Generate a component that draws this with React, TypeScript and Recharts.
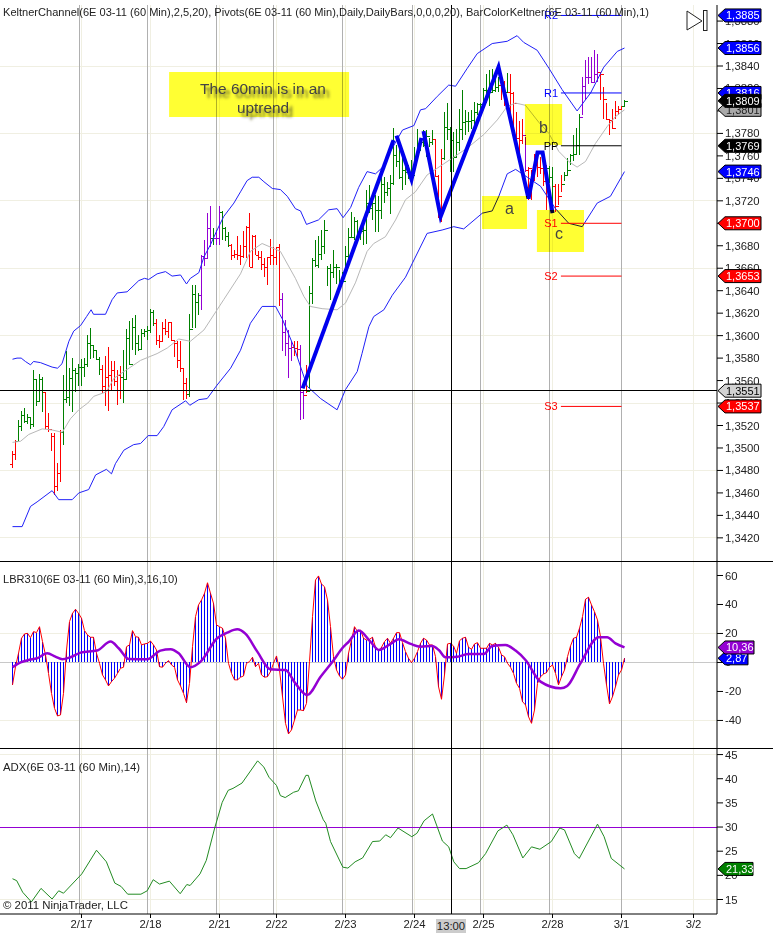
import { Bar, CartesianGrid, ComposedChart, Line, ReferenceArea, ReferenceDot, ReferenceLine, XAxis, YAxis } from "recharts";

const FONT = '"Liberation Sans", Arial, sans-serif';
const RED = "#FF0000";
const GREEN = "#008000";
const PURPLE = "#9400D3";
const BLUE = "#0000FF";
const CREAM = "#F0EFE2";
const GRAY = "#B0B0B0";

// prices are stored as the last four digits: 3840 reads 1,3840
const high = [
  3497, 3507, 3525, 3533, 3536, 3530, 3528, 3569, 3561, 3566, 3563, 3550, 3531, 3513, 3513, 3487, 3516, 3565, 3586, 3571,
  3580, 3571, 3575, 3579, 3580, 3601, 3607, 3592, 3587, 3581, 3574, 3582, 3590, 3577, 3577, 3569, 3573, 3587, 3606, 3613,
  3616, 3618, 3601, 3606, 3606, 3609, 3624, 3623,
  3615, 3601, 3612, 3615, 3612, 3612, 3595, 3595, 3595, 3571, 3562, 3619, 3645, 3645, 3638, 3672, 3685, 3709, 3715, 3696,
  3694, 3715, 3711, 3697, 3692, 3682, 3676, 3689, 3681, 3693, 3698, 3709, 3690, 3690, 3675, 3675, 3669, 3670, 3686, 3679,
  3679, 3682, 3638, 3614, 3605, 3595, 3595, 3595,
  3592, 3552, 3574, 3644, 3669, 3685, 3689, 3694, 3703, 3662, 3664, 3676, 3664, 3658, 3657, 3680, 3696, 3710, 3706, 3703,
  3695, 3701, 3730, 3734, 3727, 3725, 3724, 3741, 3741, 3737, 3743, 3785, 3770, 3770, 3758, 3753, 3752,
  3756, 3768, 3784, 3776, 3783, 3783, 3776, 3783, 3775, 3743, 3766, 3799, 3807, 3786, 3781, 3784, 3802, 3819, 3801, 3799,
  3801, 3808, 3807, 3807, 3820, 3833, 3836, 3837, 3835, 3830, 3832, 3827, 3834, 3833, 3817, 3799, 3791,
  3793, 3777, 3750, 3747, 3762, 3762, 3759, 3750, 3752, 3751, 3750, 3735, 3735, 3743, 3746, 3758, 3762, 3779, 3785, 3797,
  3830, 3845, 3848, 3848, 3854, 3851, 3835, 3821, 3807, 3793, 3802, 3809, 3804, 3804, 3810,
];
const low = [
  3482, 3489, 3506, 3515, 3522, 3521, 3517, 3519, 3537, 3541, 3532, 3517, 3514, 3497, 3458, 3462, 3470, 3503, 3540, 3537,
  3532, 3550, 3555, 3555, 3563, 3572, 3579, 3580, 3578, 3565, 3549, 3537, 3533, 3552, 3555, 3538, 3544, 3540, 3561, 3574,
  3587, 3583, 3586, 3587, 3599, 3596, 3602, 3609,
  3592, 3589, 3595, 3601, 3598, 3595, 3581, 3571, 3568, 3543, 3544, 3545, 3607, 3607, 3618, 3623, 3662, 3669, 3679, 3681,
  3681, 3681, 3685, 3684, 3679, 3667, 3669, 3667, 3663, 3669, 3669, 3661, 3661, 3672, 3667, 3658, 3652, 3645, 3663, 3663,
  3663, 3626, 3586, 3582, 3562, 3577, 3582, 3581,
  3525, 3526, 3549, 3553, 3628, 3661, 3660, 3667, 3673, 3644, 3632, 3651, 3646, 3647, 3647, 3658, 3667, 3687, 3685, 3688,
  3685, 3681, 3682, 3709, 3703, 3692, 3692, 3704, 3718, 3724, 3708, 3734, 3750, 3739, 3730, 3734, 3739,
  3738, 3756, 3764, 3764, 3768, 3759, 3768, 3770, 3741, 3705, 3701, 3756, 3774, 3746, 3746, 3759, 3764, 3774, 3779, 3781,
  3784, 3786, 3796, 3798, 3804, 3807, 3804, 3816, 3817, 3817, 3810, 3804, 3816, 3793, 3787, 3771, 3759,
  3771, 3746, 3721, 3721, 3738, 3741, 3744, 3733, 3712, 3736, 3718, 3710, 3716, 3728, 3738, 3743, 3752, 3755, 3761, 3761,
  3796, 3810, 3824, 3825, 3825, 3826, 3810, 3793, 3792, 3779, 3784, 3793, 3796, 3801, 3804,
];
const close = [
  3495, 3506, 3520, 3529, 3524, 3528, 3521, 3561, 3542, 3561, 3550, 3520, 3517, 3511, 3466, 3478, 3514, 3544, 3545, 3562,
  3569, 3567, 3572, 3572, 3575, 3593, 3592, 3587, 3579, 3570, 3555, 3563, 3565, 3569, 3560, 3565, 3563, 3561, 3598, 3575,
  3608, 3593, 3588, 3602, 3604, 3605, 3621, 3611,
  3596, 3595, 3607, 3604, 3612, 3596, 3593, 3578, 3571, 3558, 3548, 3606, 3637, 3630, 3636, 3671, 3669, 3696, 3687, 3687,
  3687, 3710, 3696, 3689, 3681, 3672, 3673, 3672, 3671, 3680, 3697, 3661, 3689, 3672, 3670, 3664, 3661, 3670, 3672, 3670,
  3679, 3633, 3603, 3593, 3589, 3590, 3589, 3588,
  3550, 3547, 3551, 3638, 3667, 3663, 3673, 3680, 3694, 3660, 3657, 3661, 3661, 3648, 3649, 3671, 3688, 3688, 3702, 3692,
  3693, 3694, 3718, 3714, 3718, 3712, 3712, 3735, 3728, 3731, 3736, 3761, 3755, 3741, 3747, 3746, 3746,
  3743, 3760, 3770, 3772, 3770, 3778, 3772, 3775, 3742, 3705, 3758, 3786, 3784, 3774, 3759, 3772, 3784, 3790, 3791, 3791,
  3792, 3799, 3806, 3806, 3819, 3819, 3817, 3819, 3821, 3823, 3826, 3817, 3817, 3816, 3807, 3776, 3774,
  3779, 3747, 3749, 3740, 3759, 3750, 3749, 3738, 3749, 3741, 3733, 3715, 3724, 3735, 3743, 3747, 3761, 3762, 3770, 3795,
  3822, 3830, 3830, 3826, 3833, 3835, 3833, 3811, 3793, 3792, 3785, 3800, 3802, 3804, 3809,
];
const open = [
  3486, 3495, 3506, 3520, 3529, 3524, 3528, 3521, 3561, 3542, 3561, 3550, 3520, 3517, 3511, 3466, 3478, 3514, 3544, 3545,
  3562, 3569, 3567, 3572, 3572, 3575, 3593, 3592, 3587, 3579, 3570, 3555, 3563, 3565, 3569, 3560, 3565, 3563, 3561, 3598,
  3575, 3608, 3593, 3588, 3602, 3604, 3605, 3621,
  3611, 3596, 3595, 3607, 3604, 3612, 3596, 3593, 3578, 3571, 3558, 3548, 3606, 3637, 3630, 3636, 3671, 3669, 3696, 3687,
  3687, 3687, 3710, 3696, 3689, 3681, 3672, 3673, 3672, 3671, 3680, 3697, 3661, 3689, 3672, 3670, 3664, 3661, 3670, 3672,
  3670, 3679, 3633, 3603, 3593, 3589, 3590, 3589,
  3588, 3550, 3547, 3551, 3638, 3667, 3663, 3673, 3680, 3694, 3660, 3657, 3661, 3661, 3648, 3649, 3671, 3688, 3688, 3702,
  3692, 3693, 3694, 3718, 3714, 3718, 3712, 3712, 3735, 3728, 3731, 3736, 3761, 3755, 3741, 3747, 3746,
  3746, 3743, 3760, 3770, 3772, 3770, 3778, 3772, 3775, 3742, 3705, 3758, 3786, 3784, 3774, 3759, 3772, 3784, 3790, 3791,
  3791, 3792, 3799, 3806, 3806, 3819, 3819, 3817, 3819, 3821, 3823, 3826, 3817, 3817, 3816, 3807, 3776,
  3774, 3779, 3747, 3749, 3740, 3759, 3750, 3749, 3738, 3749, 3741, 3733, 3715, 3724, 3735, 3743, 3747, 3761, 3762, 3770,
  3795, 3822, 3830, 3830, 3826, 3833, 3835, 3833, 3811, 3793, 3792, 3785, 3800, 3802, 3804,
];
// bar colour runs from BarColorKeltner: how many bars in a row have each colour
const colorRuns: [string, number][] = [
  [RED, 2], [GREEN, 9], [RED, 6], [GREEN, 13], [RED, 7], [GREEN, 11], [RED, 11], [GREEN, 4], [PURPLE, 4], [GREEN, 1],
  [PURPLE, 2], [GREEN, 3], [RED, 17], [PURPLE, 4], [RED, 2], [PURPLE, 2], [RED, 1], [GREEN, 42], [RED, 3], [GREEN, 19],
  [RED, 2], [GREEN, 1], [RED, 5], [PURPLE, 1], [RED, 7], [GREEN, 2], [RED, 3], [GREEN, 6], [PURPLE, 6], [RED, 8], [GREEN, 1],
];

type Pt = [number, number];
const keltnerUpper: Pt[] = [
  [0, 3579], [1.5, 3580], [2.9, 3580], [4.3, 3577], [6, 3574], [7, 3577], [9.3, 3576], [13.2, 3572], [15, 3571], [16.5, 3575],
  [18.8, 3595], [20.4, 3604], [22.7, 3609], [24.7, 3617], [26.2, 3623], [27, 3619], [31, 3619], [33.2, 3632], [34.9, 3638],
  [38.2, 3639], [42.1, 3649], [44, 3651], [45.4, 3650], [48.2, 3655], [51, 3657], [53.2, 3653], [56, 3654], [58, 3646],
  [59.3, 3651], [62.1, 3656], [63.8, 3670], [66, 3681], [68.2, 3694], [70.4, 3706], [73.8, 3718], [76, 3728], [78.2, 3738],
  [79.9, 3741], [82.1, 3741], [83.8, 3737], [86.6, 3731], [89.3, 3730], [91.6, 3724], [94.3, 3713], [96, 3711], [98, 3699],
  [102, 3703], [105.4, 3712], [108.2, 3713], [110.2, 3705], [112.7, 3714], [115.4, 3732], [118.2, 3746], [121, 3744],
  [123.4, 3750], [126.6, 3767], [130, 3783], [133.8, 3787], [136, 3801], [137.7, 3802], [141.6, 3813], [145.4, 3823],
  [147.7, 3822], [151.6, 3838], [154.9, 3851], [159.9, 3860], [164.9, 3862], [168.2, 3867], [170.4, 3861], [174.9, 3854],
  [178.8, 3838], [183.2, 3819], [188.2, 3800], [192.7, 3816], [197.1, 3839], [201.6, 3853], [204, 3856],
];
const keltnerMid: Pt[] = [
  [0, 3505], [2.7, 3506], [5.4, 3512], [9.9, 3517], [13.2, 3516], [16.6, 3514], [19.3, 3526], [22.1, 3534], [25.1, 3540],
  [27.1, 3546], [31.3, 3550], [33.8, 3562], [37.7, 3569], [42.7, 3578], [48.2, 3584], [51.6, 3589], [55.4, 3597], [59.3, 3595],
  [63.8, 3605], [68.2, 3623], [70.4, 3632], [76, 3655], [79.3, 3675], [83.2, 3682], [89.3, 3675], [94.3, 3651], [97.1, 3635],
  [99.3, 3626], [103.2, 3624], [108.2, 3623], [111, 3629], [114.3, 3647], [118.2, 3675], [120.4, 3682], [124.3, 3688],
  [127.7, 3703], [131, 3721], [134.3, 3728], [138.2, 3743], [143.8, 3753], [151.6, 3767], [157.1, 3779], [161.6, 3792],
  [164.9, 3804], [167.7, 3807], [171, 3805], [175.4, 3790], [178.8, 3780], [182.1, 3764], [185.4, 3755], [188.2, 3750],
  [191, 3755], [194.3, 3771], [198.2, 3786], [201, 3795], [204, 3801],
];
const keltnerLower: Pt[] = [
  [0, 3430], [3.2, 3430], [6, 3448], [8.2, 3452], [13.2, 3462], [15.4, 3454], [19.9, 3454], [22.1, 3460], [25.4, 3463],
  [27.7, 3476], [31.3, 3481], [33, 3477], [34.3, 3486], [37.1, 3498], [40.4, 3503], [42.7, 3504], [45.2, 3511], [48.2, 3511],
  [50.4, 3519], [53.2, 3534], [57.7, 3542], [59.1, 3538], [62.1, 3543], [64.9, 3544], [68.2, 3556], [72.7, 3571], [76, 3587],
  [79.3, 3611], [83.2, 3626], [87.7, 3626], [89.9, 3615], [93.8, 3590], [98.2, 3555], [102.7, 3544], [108.2, 3534], [111, 3552],
  [114.9, 3568], [116.5, 3584], [118.8, 3608], [120.4, 3617], [123.8, 3623], [126.6, 3636], [131, 3652], [133.2, 3664],
  [138.2, 3691], [143.2, 3694], [147.1, 3697], [150.4, 3695], [156.6, 3709], [159.9, 3711], [162.1, 3724], [164.9, 3744],
  [167.7, 3748], [171.6, 3741], [176, 3733], [181, 3713], [185.4, 3700], [189.9, 3697], [194.9, 3718], [199.3, 3724], [204, 3746],
];
// hand drawn swing lines
const swingLegs: Pt[][] = [
  [[96.7, 3553], [127, 3774]],
  [[128, 3778], [133, 3739], [136.3, 3776]],
  [[137, 3782], [142.7, 3706], [162, 3839], [172, 3722], [175, 3763], [176.7, 3763], [180, 3709]],
];
const pivots = [
  { name: "R2", value: 3885, color: BLUE },
  { name: "R1", value: 3816, color: BLUE },
  { name: "PP", value: 3769, color: "#000000" },
  { name: "S1", value: 3700, color: RED },
  { name: "S2", value: 3653, color: RED },
  { name: "S3", value: 3537, color: RED },
];
const noteBoxes = [
  [52.2, 112.2, 3794.6, 3834.7],
  [156.5, 171.5, 3694.9, 3724.3],
  [170.8, 183.2, 3769.7, 3806.2],
  [174.8, 190.5, 3674.4, 3711.8],
];
// tag value, fill, text colour; later ones lie on top
const priceTags: [number, string, string][] = [
  [3885, BLUE, "#fff"], [3856, BLUE, "#fff"], [3816, BLUE, "#fff"], [3801, "#A9A9A9", "#222"], [3809, "#000", "#fff"],
  [3769, "#000", "#fff"], [3746, BLUE, "#fff"], [3700, RED, "#fff"], [3653, RED, "#fff"], [3537, RED, "#fff"], [3551, "#D3D3D3", "#000"],
];

const lbr = [
  -15.5, -2.9, 6.3, 16.7, 19.7, 20.1, 17.1, 21.3, 20.6, 24.7, 14.4, 5.2, -7.5, -21.3, -31.6, -36.9, -36.2, -21.3, 8.6, 28.2,
  33.9, 36.7, 33.9, 30.5, 22, 19, 17.4, 17.4, 6.3, -0.6, -8.6, -12, -16.2, -13.2, -10.9, -7.5, -4, -3.3, 10.9, 12.1,
  22, 17.8, 17.4, 12.1, 12.8, 13.2, 14.8, 12.1, 8.6, -2.9, -3.3, -0.6, 1.3, -1.7, -3.3, -12, -16.2, -21.3, -27.7, -14.4,
  10.9, 31.6, 39.7, 43.1, 47.7, 55, 47.7, 40.8, 25.9, 24.7, 23.6, 16.7, -0.6, -7.5, -12, -12, -10.2, -9.3, -0.6, 0.6,
  3.6, -2.9, -0.6, -8.6, -10.2, -9.8, -6.3, -0.6, 4.5, -5.2, -23.6, -42, -49.3, -46.5, -39.7, -32.8, -32.8, -33.2, -28.2, 0.6,
  31.6, 56.9, 59.7, 54.1, 52.3, 43.1, 24.7, 4, -5.2, -9.3, -11.6, -8.6, 6.3, 15.5, 24.7, 21.3, 22.4, 16.7, 15.5, 16,
  17.4, 10.5, 8.2, 10.5, 14.4, 16.7, 13.2, 16.7, 20.6, 20.6, 13.7, 7.5, 2.9, -0.1, 2.9, 7.5, 13.2, 16.7, 15.5, 12.1,
  12.1, 4, -16.7, -25.4, -8.6, 12.8, 13.2, 11.4, 6.3, 15, 16.7, 17.4, 10.5, 9.1, 12.8, 13.7, 9.8, 9.8, 9.8, 13.2,
  12.1, 13.2, 10.5, 5.2, 4, -0.6, -3.3, -7.5, -14.4, -17.8, -27, -29.3, -37.4, -42, -32.8, -14.4, -9.8, -8, -7, -3.3,
  -1.7, -7.5, -15.5, -9.8, -5.2, 4, 11.4, 16.7, 17.4, 23.6, 31.6, 43.6, 45, 39.7, 35, 29.3, 17.8, -0.6, -15.5, -28.6,
  -23.6, -16.7, -8.6, -5.2, 2.87,
];
const lbrSignal: Pt[] = [
  [0, -3.3], [2.7, 0.1], [5.4, 1.7], [8.2, 2.9], [11.6, 6.3], [14.3, 4], [16.6, 2.2], [19.3, 3.6], [22.7, 6.8], [28.2, 8.2],
  [32.7, 14.4], [35.4, 9.8], [38.8, 2.4], [44.9, 2.2], [49.3, 8.2], [52.7, 9.1], [55.4, 6.3], [59.3, -3.3], [62.7, 0.6],
  [68.2, 16.7], [71.6, 20.6], [74.9, 22.9], [77.7, 19.7], [81.6, 7.5], [86, -4.7], [91, -5.2], [94.3, -14.4], [98.2, -22.4],
  [102.7, -9.8], [107.1, 1.7], [109.9, 9.8], [112.1, 14.4], [115.4, 22], [119.3, 14.4], [122.1, 8.6], [126, 12.8], [128.8, 16],
  [132.7, 12.8], [136, 10.9], [139.9, 11.4], [142.1, 8.6], [144.3, 3.6], [148.2, 4], [152.1, 5.9], [157.1, 5.9], [159.9, 11.4],
  [164.3, 12.1], [167.7, 8.2], [171, 1.7], [176, -13.2], [182.7, -17.8], [184.9, -16.2], [189.3, -0.6], [195.4, 17.4],
  [198.2, 17.4], [201, 13.2], [204, 10.36],
];
const adx: Pt[] = [
  [0, 19.3], [1.4, 18.9], [3.4, 16.5], [6.3, 14.5], [9.5, 17.3], [13.2, 15.1], [15.4, 16.8], [17, 16.3], [23.1, 20.3], [28, 25.2],
  [31.3, 22.8], [34.1, 18.4], [36.2, 17.7], [38.4, 16.1], [42.8, 16.1], [44.9, 16.8], [46.9, 19.1], [49, 18.2], [52.3, 18.8],
  [55.9, 16.2], [58.1, 18.1], [59.2, 17.9], [62.5, 20.3], [64.6, 23.1], [67.4, 29.8], [69.9, 35.1], [71.9, 37.6], [73.5, 38],
  [76.5, 39.1], [81.7, 43.7], [83.8, 42.4], [85.5, 40.3], [88, 38.6], [89.3, 36.5], [90.9, 36.1], [93.7, 37.2], [95.3, 37.5],
  [97.8, 40.7], [98.6, 40.7], [101.1, 35.4], [103.6, 31.5], [104.4, 30.8], [106, 27], [110.1, 21.7], [111.8, 21.5], [114.2, 22.8],
  [116.7, 23.6], [120, 27], [122.4, 27.1], [124.4, 28.4], [126, 27.8], [128.5, 29.8], [133.1, 28], [134.8, 28.7], [137.2, 31.3],
  [140, 32.7], [143.3, 27.1], [145.4, 25.9], [147.1, 22.8], [149, 21.4], [151.2, 21.4], [155.3, 22.6], [157.7, 24.5], [161.8, 29.2],
  [164.8, 30.4], [166.8, 28.4], [170.1, 23.6], [173, 25.9], [175.8, 25.4], [179.6, 27], [182.4, 29.8], [184, 29.4], [187.3, 24.5],
  [188.9, 23.5], [195, 30.6], [197.2, 28], [199.6, 23.5], [204, 21.33],
];

const priceTicks = [3420, 3440, 3460, 3480, 3500, 3520, 3540, 3560, 3580, 3600, 3620, 3640, 3660, 3680, 3700, 3720, 3740, 3760, 3780, 3800, 3820, 3840, 3860, 3880];
const priceGrid = [3420, 3480, 3540, 3600, 3660, 3720, 3780, 3840];
const lbrTicks = [-40, -20, 0, 20, 40, 60];
const adxTicks = [15, 20, 25, 30, 35, 40, 45];
const dateTicks = [23, 46, 69, 88, 111, 134, 157, 180, 203, 227];
const dateLabels = ["2/17", "2/18", "2/21", "2/22", "2/23", "2/24", "2/25", "2/28", "3/1", "3/2"];
const sessionBreaks = [22.3, 45, 68, 87, 110, 133.3, 156, 179, 203];
const cursorBar = 146.17;
const cursorPrice = 3551;

const X_DOMAIN: [number, number] = [-4.1667, 234.83];
const TAG_LAYER = 2000;
const axisFont = { fontSize: 11.3, fontFamily: FONT, fill: "#222" };

const barColors = colorRuns.flatMap(([c, n]) => Array(n).fill(c));
const priceRows = high.map((h, i) => ({ i, high: h, low: low[i], open: open[i], close: close[i], color: barColors[i], lbr: lbr[i] }));
const pts = (a: Pt[]) => a.map(([i, v]) => ({ i, v }));
const fmtPrice = (v: number) => `1,${v}`;

function OhlcBar(props: any) {
  const { x, y, width, height, payload } = props;
  const cx = Math.round(x + width / 2) + 0.5;
  const yOf = (v: number) => Math.round(y + ((payload.high - v) / (payload.high - payload.low)) * height) + 0.5;
  return (
    <g stroke={payload.color} strokeWidth={1} shapeRendering="crispEdges">
      <line x1={cx} x2={cx} y1={y} y2={y + height} />
      <line x1={cx - 3} x2={cx} y1={yOf(payload.open)} y2={yOf(payload.open)} />
      <line x1={cx} x2={cx + 3} y1={yOf(payload.close)} y2={yOf(payload.close)} />
    </g>
  );
}

function HistBar(props: any) {
  const { x, y, width, height } = props;
  // values under zero come with a negative height
  return <rect x={Math.round(x + width / 2)} y={Math.min(y, y + height)} width={1} height={Math.abs(height)} fill={BLUE} shapeRendering="crispEdges" />;
}

function tagShape(label: string, fill: string, color: string, w: number) {
  return (props: any) => {
    const { cx, cy } = props;
    const l = cx + 1;
    return (
      <g>
        <polygon
          points={`${l},${cy} ${l + 7},${cy - 6.5} ${l + w},${cy - 6.5} ${l + w},${cy + 6.5} ${l + 7},${cy + 6.5}`}
          fill={fill} stroke="#000" strokeWidth={1}
        />
        <text x={l + 8} y={cy + 4} fontSize={11} fontFamily={FONT} fill={color}>{label}</text>
      </g>
    );
  };
}

function pivotLabel(name: string, color: string) {
  return (props: any) => (
    <text x={props.cx} y={props.cy + 4} textAnchor="middle" fontSize={11} fontFamily={FONT} fill={color}>{name}</text>
  );
}

const panelBack = (horizontal: number[]) => (
  <CartesianGrid stroke={CREAM} strokeWidth={1} horizontalValues={horizontal} verticalValues={dateTicks} shapeRendering="crispEdges" />
);
const sessionLines = sessionBreaks.map((b) => (
  <ReferenceLine key={`s${b}`} x={b} stroke={GRAY} strokeWidth={1} shapeRendering="crispEdges" zIndex={100} />
));

function Label({ left, top, text, size = 12, color = "#222" }: { left: number; top: number; text: string; size?: number; color?: string }) {
  return <div style={{ position: "absolute", left, top, fontSize: size, color, whiteSpace: "nowrap", lineHeight: "14px" }}>{text}</div>;
}

export default function App() {
  return (
    <div style={{ position: "absolute", left: 0, top: 0, width: 773, height: 938, background: "#fff", overflow: "hidden", fontFamily: FONT }}>
      <div style={{ position: "absolute", left: 0, top: 0 }}>
        <ComposedChart width={773} height={561} data={priceRows} margin={{ top: 5, right: 0, bottom: 0, left: 0 }}>
          {panelBack(priceGrid)}
          <XAxis dataKey="i" type="number" domain={X_DOMAIN} allowDataOverflow hide />
          <YAxis
            orientation="right" width={56} domain={[3399.4, 3894.3]} allowDataOverflow ticks={priceTicks} interval={0}
            tickFormatter={fmtPrice} tick={axisFont} tickSize={6} tickMargin={2} axisLine={{ stroke: "#000" }} tickLine={{ stroke: "#000" }}
          />
          {sessionLines}
          <Bar dataKey={(d: any) => [d.low, d.high]} barSize={3} shape={OhlcBar} isAnimationActive={false} />
          <Line data={pts(keltnerUpper)} dataKey="v" stroke="#2020F8" strokeWidth={1} dot={false} isAnimationActive={false} />
          <Line data={pts(keltnerMid)} dataKey="v" stroke="#B8B8B8" strokeWidth={1} dot={false} isAnimationActive={false} />
          <Line data={pts(keltnerLower)} dataKey="v" stroke="#2020F8" strokeWidth={1} dot={false} isAnimationActive={false} />
          {pivots.map((p) => (
            <Line key={p.name} data={pts([[182.8, p.value], [203, p.value]])} dataKey="v" stroke={p.color} strokeWidth={1} dot={false} isAnimationActive={false} />
          ))}
          {noteBoxes.map(([x1, x2, y1, y2]) => (
            <ReferenceArea key={x1} x1={x1} x2={x2} y1={y1} y2={y2} fill="#FFFF33" fillOpacity={1} stroke="none" zIndex={900} style={{ mixBlendMode: "multiply" }} />
          ))}
          {swingLegs.map((leg, n) => (
            <Line key={n} data={pts(leg)} dataKey="v" stroke="#0000EE" strokeWidth={4} dot={false} isAnimationActive={false} />
          ))}
          <ReferenceLine x={cursorBar} stroke="#000" strokeWidth={1} shapeRendering="crispEdges" />
          <ReferenceLine y={cursorPrice} stroke="#000" strokeWidth={1} shapeRendering="crispEdges" />
          {pivots.map((p) => (
            <ReferenceDot key={`l${p.name}`} x={179.5} y={p.value} ifOverflow="visible" shape={pivotLabel(p.name, p.color)} zIndex={TAG_LAYER} />
          ))}
          {priceTags.map(([v, fill, color], n) => (
            <ReferenceDot key={`t${v}`} x={X_DOMAIN[1]} y={v} ifOverflow="visible" shape={tagShape(fmtPrice(v), fill, color, 43)} zIndex={TAG_LAYER + n} />
          ))}
        </ComposedChart>
      </div>

      <div style={{ position: "absolute", left: 0, top: 561 }}>
        <ComposedChart width={773} height={187} data={priceRows} margin={{ top: 0, right: 0, bottom: 0, left: 0 }}>
          {panelBack([20, -40])}
          <XAxis dataKey="i" type="number" domain={X_DOMAIN} allowDataOverflow hide />
          <YAxis
            orientation="right" width={56} domain={[-59, 70]} allowDataOverflow ticks={lbrTicks} interval={0}
            tick={axisFont} tickSize={6} tickMargin={2} axisLine={{ stroke: "#000" }} tickLine={{ stroke: "#000" }}
          />
          {sessionLines}
          <ReferenceLine y={0} stroke="#C8C8C8" strokeWidth={1} shapeRendering="crispEdges" zIndex={100} />
          <Bar dataKey="lbr" barSize={1} shape={HistBar} isAnimationActive={false} />
          <Line dataKey="lbr" stroke={RED} strokeWidth={1} dot={false} isAnimationActive={false} />
          <Line data={pts(lbrSignal)} type="monotone" dataKey="v" stroke={PURPLE} strokeWidth={2.5} dot={false} isAnimationActive={false} />
          <ReferenceLine x={cursorBar} stroke="#000" strokeWidth={1} shapeRendering="crispEdges" />
          <ReferenceDot x={X_DOMAIN[1]} y={2.87} ifOverflow="visible" shape={tagShape("2,87", BLUE, "#fff", 30)} zIndex={TAG_LAYER} />
          <ReferenceDot x={X_DOMAIN[1]} y={10.36} ifOverflow="visible" shape={tagShape("10,36", PURPLE, "#fff", 36)} zIndex={TAG_LAYER + 1} />
        </ComposedChart>
      </div>

      <div style={{ position: "absolute", left: 0, top: 748 }}>
        <ComposedChart width={773} height={190} data={priceRows} margin={{ top: 0, right: 0, bottom: 0, left: 0 }}>
          {panelBack([15, 45])}
          <XAxis
            dataKey="i" type="number" domain={X_DOMAIN} allowDataOverflow height={24} ticks={dateTicks} interval={0}
            tickFormatter={(v: number) => dateLabels[dateTicks.indexOf(v)]} tick={axisFont} tickSize={4} tickMargin={2}
            axisLine={{ stroke: "#000" }} tickLine={{ stroke: "#000" }}
          />
          <YAxis
            orientation="right" width={56} domain={[12, 46.36]} allowDataOverflow ticks={adxTicks} interval={0}
            tick={axisFont} tickSize={6} tickMargin={2} axisLine={{ stroke: "#000" }} tickLine={{ stroke: "#000" }}
          />
          {sessionLines}
          <ReferenceLine y={30} stroke={PURPLE} strokeWidth={1} shapeRendering="crispEdges" zIndex={100} />
          <Line data={pts(adx)} dataKey="v" stroke="#228B22" strokeWidth={1} dot={false} isAnimationActive={false} />
          <ReferenceLine x={cursorBar} stroke="#000" strokeWidth={1} shapeRendering="crispEdges" />
          <ReferenceDot x={X_DOMAIN[1]} y={21.33} ifOverflow="visible" shape={tagShape("21,33", GREEN, "#fff", 35)} zIndex={TAG_LAYER} />
        </ComposedChart>
      </div>

      <div style={{ position: "absolute", left: 0, top: 561, width: 773, height: 1, background: "#000" }} />
      <div style={{ position: "absolute", left: 0, top: 748, width: 773, height: 1, background: "#000" }} />

      <Label left={3} top={5} size={11.07} text="KeltnerChannel(6E 03-11 (60 Min),2,5,20), Pivots(6E 03-11 (60 Min),Daily,DailyBars,0,0,0,20), BarColorKeltner(6E 03-11 (60 Min),1)" />
      <Label left={3} top={572} size={11.05} text="LBR310(6E 03-11 (60 Min),3,16,10)" />
      <Label left={3} top={760} size={11.4} text="ADX(6E 03-11 (60 Min),14)" />
      <Label left={3} top={898} size={11.4} text="© 2011 NinjaTrader, LLC" />

      <div style={{ position: "absolute", left: 436, top: 919, width: 30, height: 14, background: "#CCCCCC", fontSize: 11.3, lineHeight: "14px", textAlign: "center", color: "#222" }}>13:00</div>

      <div style={{ position: "absolute", left: 199, top: 79, width: 128, textAlign: "center", fontSize: 15.4, lineHeight: "19px", color: "#444", textShadow: "4px 4px 3px #66662a" }}>
        The 60min is in an uptrend
      </div>
      <Label left={505} top={202} text="a" size={16} color="#444" />
      <Label left={539} top={121} text="b" size={16} color="#444" />
      <Label left={555} top={227} text="c" size={16} color="#444" />

      <svg style={{ position: "absolute", left: 684, top: 8 }} width={26} height={26}>
        <polygon points="3,3 18,13 3,22" fill="#fff" stroke="#222" strokeWidth={1} />
        <rect x={19.5} y={2.5} width={3.5} height={20} fill="#fff" stroke="#222" strokeWidth={1} />
      </svg>
    </div>
  );
}
